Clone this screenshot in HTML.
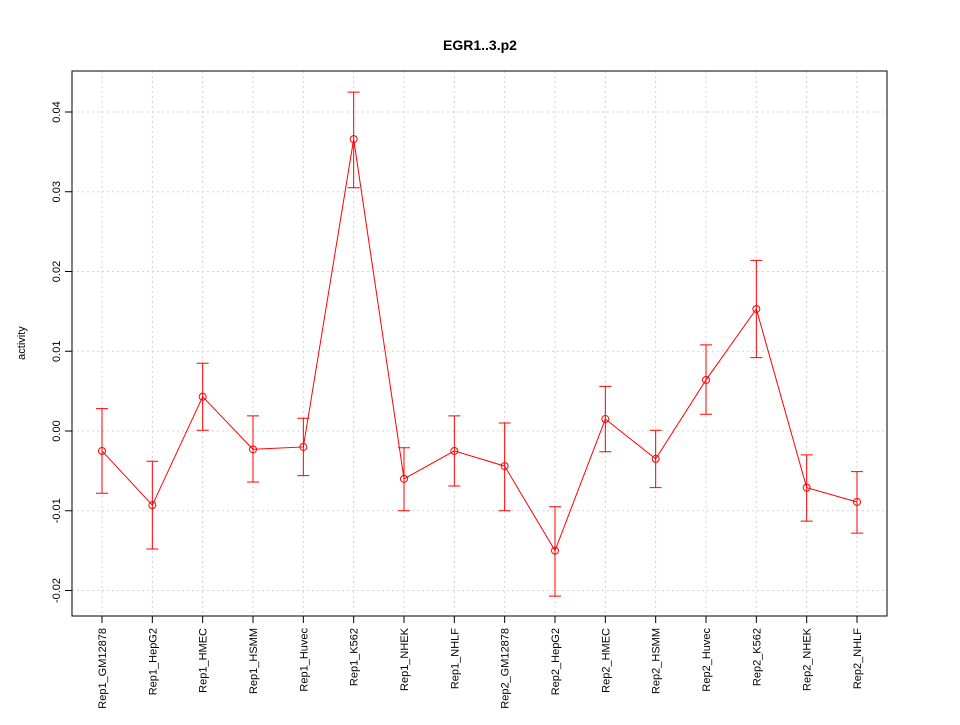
<!DOCTYPE html>
<html><head><meta charset="utf-8"><style>
body{margin:0;background:#fff;}
svg text{font-family:"Liberation Sans",sans-serif;}
</style></head><body>
<svg id="chart" width="960" height="720" xmlns="http://www.w3.org/2000/svg">
<text x="480" y="50" text-anchor="middle" font-size="14" font-weight="bold">EGR1..3.p2</text>
<text transform="translate(25,343) rotate(-90)" text-anchor="middle" font-size="11">activity</text>
<g id="grid"></g><g id="axes"></g><g id="series"></g>
</svg>
<script>
const categories = ["Rep1_GM12878","Rep1_HepG2","Rep1_HMEC","Rep1_HSMM","Rep1_Huvec","Rep1_K562","Rep1_NHEK","Rep1_NHLF","Rep2_GM12878","Rep2_HepG2","Rep2_HMEC","Rep2_HSMM","Rep2_Huvec","Rep2_K562","Rep2_NHEK","Rep2_NHLF"];
const values = [-0.0025,-0.0093,0.0043,-0.0023,-0.0020,0.0366,-0.0060,-0.0025,-0.0044,-0.0150,0.0015,-0.0035,0.0064,0.0153,-0.0071,-0.0089];
const upper = [0.0028,-0.0038,0.0085,0.0019,0.0016,0.0425,-0.0021,0.0019,0.0010,-0.0095,0.0056,0.0001,0.0108,0.0214,-0.0030,-0.0051];
const lower = [-0.0078,-0.0148,0.0001,-0.0064,-0.0056,0.0305,-0.0100,-0.0069,-0.0100,-0.0207,-0.0026,-0.0071,0.0021,0.0092,-0.0113,-0.0128];
const yTicks = [-0.02,-0.01,0.00,0.01,0.02,0.03,0.04];
const yTickLabels = ["-0.02","-0.01","0.00","0.01","0.02","0.03","0.04"];

const NS="http://www.w3.org/2000/svg";
const L=72,R=887,T=71,B=616;
function xs(i){return 102+i*(857-102)/(categories.length-1);}
function ys(v){return 431-v*7975;}
function mk(tag,attrs,parent){const e=document.createElementNS(NS,tag);for(const k in attrs)e.setAttribute(k,attrs[k]);document.getElementById(parent).appendChild(e);return e;}

yTicks.forEach((t,i)=>{
  let g=mk('line',{x1:L,x2:R,y1:ys(t),y2:ys(t),stroke:'#d3d3d3','stroke-dasharray':'2,3'},'grid');
  
  
  let tk=mk('line',{x1:L-7,x2:L,y1:ys(t),y2:ys(t),stroke:'#000'},'axes');
  
  
  let tx=mk('text',{transform:`translate(${L-12},${ys(t)}) rotate(-90)`,'text-anchor':'middle','font-size':'11'},'axes');
  tx.textContent=yTickLabels[i];
  
  
});
categories.forEach((c,i)=>{
  let g=mk('line',{x1:xs(i),x2:xs(i),y1:T,y2:B,stroke:'#d3d3d3','stroke-dasharray':'2,3'},'grid');
  
  
  let tk=mk('line',{x1:xs(i),x2:xs(i),y1:B,y2:B+7,stroke:'#000'},'axes');
  
  
  let tx=mk('text',{transform:`translate(${xs(i)+4},${B+12}) rotate(-90)`,'text-anchor':'end','font-size':'11'},'axes');
  tx.textContent=c;
  
  
});
let frame=mk('rect',{x:L,y:T,width:R-L,height:B-T,fill:'none',stroke:'#000'},'axes');



let pts=values.map((v,i)=>xs(i)+','+ys(v)).join(' ');
let pl=mk('polyline',{points:pts,fill:'none',stroke:'#ff0000'},'series');


values.forEach((v,i)=>{
  const x=xs(i);
  let eb=mk('path',{d:`M${x},${ys(upper[i])}V${ys(lower[i])}M${x-6},${ys(upper[i])}H${x+6}M${x-6},${ys(lower[i])}H${x+6}`,stroke:'#ff0000',fill:'none'},'series');
  
  
  let p=mk('circle',{cx:x,cy:ys(v),r:3.5,fill:'none',stroke:'#ff0000'},'series');
  
  
});
</script>
</body></html>
